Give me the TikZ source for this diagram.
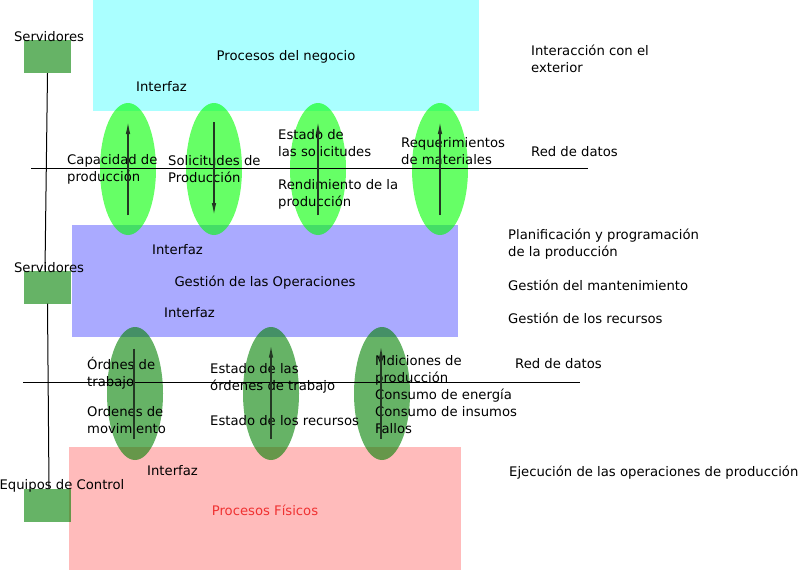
\documentclass[tikz,border=0pt]{standalone}
\usepackage{fontspec}
\setmainfont{DejaVu Sans}
\usetikzlibrary{arrows.meta,shapes.geometric}
\definecolor{cyanbox}{RGB}{170,255,255}
\definecolor{bluebox}{RGB}{170,170,255}
\definecolor{pinkbox}{RGB}{255,187,187}
\definecolor{redtxt}{RGB}{240,50,50}
\tikzset{
  lbl/.style={font=\fontsize{13.2}{17}\selectfont, inner sep=0pt, anchor=north west, align=left, execute at begin node=\strut, yshift=-2pt},
  clbl/.style={font=\fontsize{13.2}{17}\selectfont, inner sep=0pt, anchor=center, yshift=-1.5pt},
  srv/.style={fill={rgb,255:red,0;green,128;blue,0}, fill opacity=0.6, draw=none, minimum width=47pt, minimum height=33pt, inner sep=0pt},
  lightell/.style={ellipse, fill={rgb,255:red,0;green,255;blue,0}, fill opacity=0.6, draw=none, minimum width=56pt, minimum height=132pt, inner sep=0pt},
  darkell/.style={ellipse, fill={rgb,255:red,0;green,128;blue,0}, fill opacity=0.6, draw=none, minimum width=56pt, minimum height=133pt, inner sep=0pt},
  flow/.style={draw={rgb,255:red,35;green,55;blue,35}, line width=1.2pt, -{Latex[length=12pt,width=4.5pt]}},
  plainflow/.style={draw={rgb,255:red,35;green,55;blue,35}, line width=1.2pt},
  bus/.style={draw=black, line width=1pt},
}
\begin{document}
\begin{tikzpicture}[x=1pt,y=-1pt]
\useasboundingbox (0,0) rectangle (799,570);
% layers
\fill[cyanbox] (93,0) rectangle (479,111);
\fill[bluebox] (72,225) rectangle (458,337);
\fill[pinkbox] (69,447) rectangle (461,570);
% servers
\node[srv] (s1) at (47.5,56.5) {};
\node[srv] (s2) at (47.5,287) {};
\node[srv] (s3) at (47.5,505) {};
\coordinate (s2top) at (45,270);
\coordinate (s3top) at (49,488);
% ellipses upper
\node[lightell] (e1) at (128,169) {};
\node[lightell] (e2) at (214,169) {};
\node[lightell] (e3) at (318,169) {};
\node[lightell] (e4) at (440,169) {};
% ellipses lower
\node[darkell] (f1) at (135,393.5) {};
\node[darkell] (f2) at (271,393.5) {};
\node[darkell] (f3) at (382,393.5) {};
% texts
\node[clbl] (t1) at (49,35) {Servidores};
\node[clbl] (t2) at (49,266) {Servidores};
\node[clbl] (t3) at (62,484) {Equipos de Control};
\node[clbl] (pn) at (286,55) {Procesos del negocio};
\node[lbl] (i1) at (136,77.6) {Interfaz};
\node[lbl] (ie) at (531,42.6) {Interacción con el\\exterior};
\node[lbl] (cp) at (67,152.6) {Capacidad de\\producción};
\node[lbl] (sp) at (168,153.6) {Solicitudes de\\Producción};
\node[lbl] (es) at (278,127.6) {Estado de\\las solicitudes};
\node[lbl] (rp) at (278,177.6) {Rendimiento de la\\producción};
\node[lbl] (rm) at (401,135.6) {Requerimientos\\de materiales};
\node[lbl] (rd1) at (531,142.6) {Red de datos};
\node[lbl] (i2) at (152,240.6) {Interfaz};
\node[clbl] (go) at (265,281) {Gestión de las Operaciones};
\node[lbl] (i3) at (164,303.6) {Interfaz};
\node[lbl] (pp) at (508,226.6) {Planificación y programación\\de la producción};
\node[lbl] (gm) at (508,276.6) {Gestión del mantenimiento};
\node[lbl] (gr) at (508,309.6) {Gestión de los recursos};
\node[lbl] (ot) at (87,354.6) {Órdnes de\\trabajo};
\node[lbl] (om) at (87,404.6) {Ordenes de\\movimiento};
\node[lbl] (eo) at (210,361.6) {Estado de las\\órdenes de trabajo};
\node[lbl] (er) at (210,411.6) {Estado de los recursos};
\node[lbl] (md) at (375,353.6) {Mdiciones de\\producción\\Consumo de energía\\Consumo de insumos\\Fallos};
\node[lbl] (rd2) at (515,354.6) {Red de datos};
\node[lbl] (i4) at (147,461.6) {Interfaz};
\node[clbl, text=redtxt] (pf) at (265,509) {Procesos Físicos};
\node[lbl] (ej) at (509,462.6) {Ejecución de las operaciones de producción};
% buses
\coordinate (b1l) at (31,168);
\coordinate (b1r) at (588,168);
\coordinate (b2l) at (23,382);
\coordinate (b2r) at (580,382);
\draw[bus] (b1l) -- (b1r);
\draw[bus] (b2l) -- (b2r);
\draw[bus] (s1.south) -- (s2top);
\draw[bus] (s2.south) -- (s3top);
% flows (canvas y points up)
\draw[flow] ([yshift=-46pt]e1.center) -- ([yshift=47pt]e1.center);
\draw[flow] ([yshift=47pt]e2.center) -- ([yshift=-46pt]e2.center);
\draw[flow] ([yshift=-46pt]e3.center) -- ([yshift=47pt]e3.center);
\draw[flow] ([yshift=-46pt]e4.center) -- ([yshift=47pt]e4.center);
\draw[plainflow] ([shift={(-1pt,45pt)}]f1.center) -- ([shift={(-1pt,-45pt)}]f1.center);
\draw[flow] ([yshift=-45pt]f2.center) -- ([yshift=48pt]f2.center);
\draw[flow] ([shift={(-1pt,-45pt)}]f3.center) -- ([shift={(-1pt,47pt)}]f3.center);
\end{tikzpicture}
\end{document}
